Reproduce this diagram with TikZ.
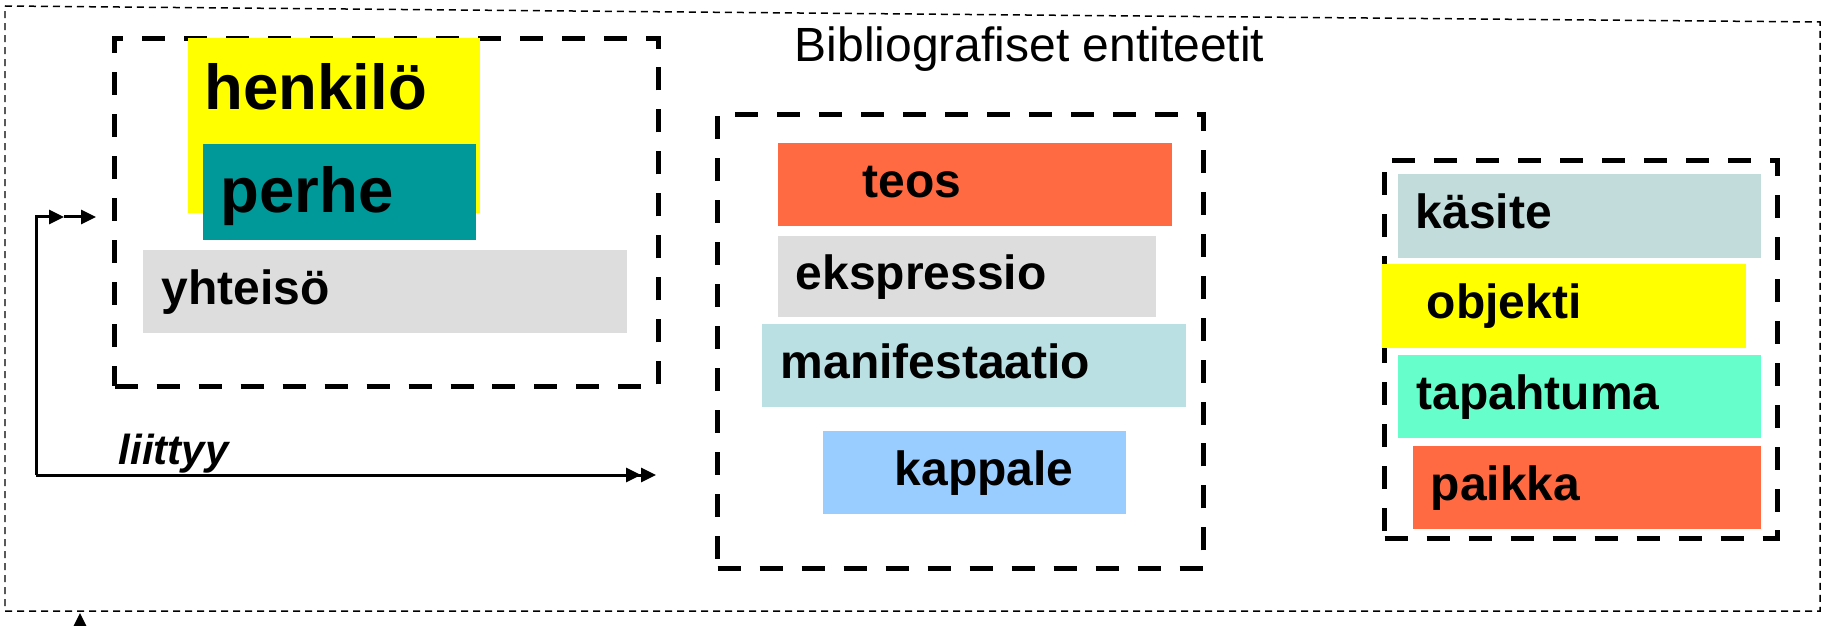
\documentclass[tikz,border=0pt]{standalone}
\usepackage{xcolor}
\usepackage{fontspec}
\setmainfont{Liberation Sans}
\usepackage{tikz}
\usetikzlibrary{arrows.meta}
\definecolor{keltainen}{HTML}{FFFF00}
\definecolor{petrooli}{HTML}{009999}
\definecolor{harmaa}{HTML}{DDDDDD}
\definecolor{oranssi}{HTML}{FF6A42}
\definecolor{vaaleaturkoosi}{HTML}{BBE0E3}
\definecolor{vaaleansininen}{HTML}{99CCFF}
\definecolor{harmaaturkoosi}{HTML}{C2DCDC}
\definecolor{minttu}{HTML}{66FFCC}
\tikzset{
  entity node/.style={anchor=north west,inner ysep=0pt,align=left,text height=0.85em,text depth=0.1em,
    font=\fontsize{13.66pt}{16pt}\selectfont\bfseries},
  big entity/.style={entity node,font=\fontsize{18.07pt}{21pt}\selectfont\bfseries},
  group box/.style={draw,anchor=north west,inner sep=0pt,line width=0.5mm,dash pattern=on 2.3mm off 1.9mm},
  link/.style={line width=0.3mm},
  kolmio/.tip={Triangle[length=1.5mm,width=1.4mm]}
}
\begin{document}
\begin{tikzpicture}[x=0.1mm,y=-0.1mm]
  \useasboundingbox (0,0) rectangle (1831,626);
  \draw [line width=0.15mm,dash pattern=on 0.7mm off 0.5mm] (5,6) -- (1820,22) -- (1820,611) -- (5,611) -- cycle;
  \node [anchor=base west,inner sep=0pt,font=\fontsize{13.66pt}{16pt}\selectfont] (otsikko) at (794,62) {Bibliografiset entiteetit};

  \node [group box,minimum width=54.4mm,minimum height=34.8mm] (toimijat) at (112,36) {};
  \node [group box,minimum width=48.6mm,minimum height=45.4mm] (teokset) at (715,112) {};
  \node [group box,minimum width=39.3mm,minimum height=37.8mm] (aiheet) at (1382,158) {};

  \node [big entity,fill=keltainen,inner xsep=1.7mm,text width=25.8mm,text height=7.2mm,text depth=10.3mm] (henkilo) at (187,37) {henkilö};
  \node [big entity,fill=petrooli,inner xsep=1.8mm,text width=23.7mm,text height=6.9mm,text depth=2.7mm] (perhe) at (202,143) {perhe};
  \node [entity node,fill=harmaa,inner xsep=1.9mm,text width=44.6mm,minimum height=8.3mm] (yhteiso) at (142,249) {yhteisö};

  \node [entity node,fill=oranssi,inner xsep=8.5mm,text width=22.4mm,minimum height=8.3mm] (teos) at (777,142) {teos};
  \node [entity node,fill=harmaa,inner xsep=1.8mm,text width=34.2mm,minimum height=8.1mm] (ekspressio) at (777,235) {ekspressio};
  \node [entity node,fill=vaaleaturkoosi,inner xsep=1.9mm,text width=38.6mm,minimum height=8.3mm] (manifestaatio) at (761,323) {manifestaatio};
  \node [entity node,fill=vaaleansininen,inner xsep=7.2mm,text width=15.9mm,minimum height=8.3mm] (kappale) at (822,430) {kappale};

  \node [entity node,fill=harmaaturkoosi,inner xsep=1.8mm,text width=32.7mm,minimum height=8.4mm] (kasite) at (1397,173) {käsite};
  \node [entity node,fill=keltainen,inner xsep=4.5mm,text width=27.4mm,minimum height=8.4mm] (objekti) at (1381,263) {objekti};
  \node [entity node,fill=minttu,inner xsep=1.9mm,text width=32.5mm,minimum height=8.3mm] (tapahtuma) at (1397,354) {tapahtuma};
  \node [entity node,fill=oranssi,inner xsep=1.8mm,text width=31.2mm,minimum height=8.3mm] (paikka) at (1412,445) {paikka};

  \coordinate (alku) at (36,475);
  \coordinate (kulma) at (36,217);
  \coordinate (puoli) at (64,217);
  \coordinate (loppu) at (656,475);
  \draw [link,-{kolmio[]}] (alku) -- (kulma) -- (puoli);
  \draw [link,-{kolmio[]},shorten >=1.6mm] (puoli) -- (toimijat.west |- puoli);
  \draw [link,-{kolmio[]kolmio[]}] (alku) -- (loppu);
  \node [anchor=base west,inner sep=0pt,font=\fontsize{11.95pt}{14pt}\selectfont\bfseries\itshape] (liittyy) at (118,464) {liittyy};

  \coordinate (ulkoa) at (80,680);
  \coordinate (reuna) at (80,613);
  \draw [link,-{kolmio[]}] (ulkoa) -- (reuna);
\end{tikzpicture}
\end{document}
